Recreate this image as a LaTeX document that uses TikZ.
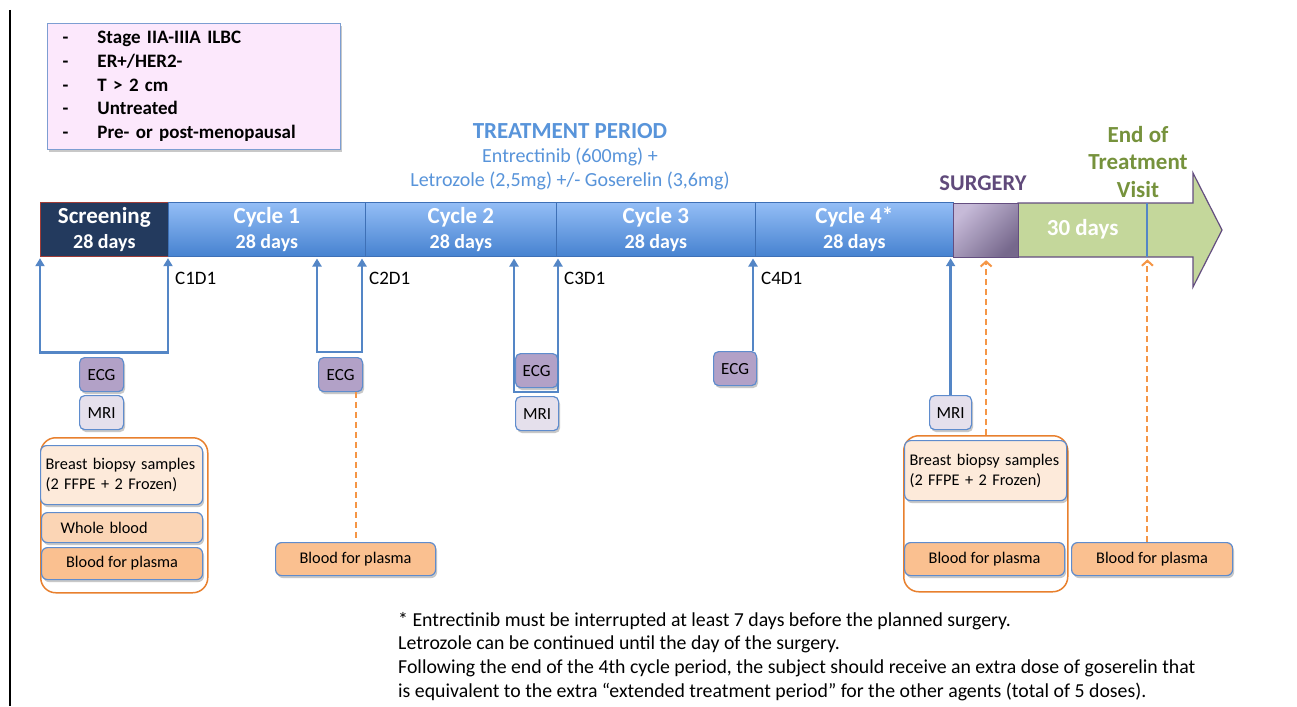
\documentclass[tikz,border=0pt]{standalone}
\usepackage{fontspec}
\setmainfont{Carlito}
\usetikzlibrary{arrows.meta,shadows,calc}
\definecolor{barTop}{RGB}{148,190,246}
\definecolor{barBot}{RGB}{70,130,208}
\definecolor{barEdge}{RGB}{62,112,182}
\definecolor{scrFill}{RGB}{35,58,94}
\definecolor{scrEdge}{RGB}{160,60,55}
\definecolor{surTop}{RGB}{198,186,216}
\definecolor{surBot}{RGB}{118,104,140}
\definecolor{purEdge}{RGB}{100,78,128}
\definecolor{grnFill}{RGB}{196,215,155}
\definecolor{arrBlue}{RGB}{84,134,198}
\definecolor{boxBlue}{RGB}{95,140,205}
\definecolor{ecgFill}{RGB}{178,161,199}
\definecolor{mriFill}{RGB}{229,224,236}
\definecolor{bioFill}{RGB}{253,234,218}
\definecolor{wbFill}{RGB}{251,213,181}
\definecolor{bpFill}{RGB}{250,192,144}
\definecolor{orLine}{RGB}{232,128,46}
\definecolor{orDashC}{RGB}{245,150,70}
\definecolor{tpBlue}{RGB}{88,148,218}
\definecolor{surText}{RGB}{96,74,123}
\definecolor{eotGreen}{RGB}{118,146,60}
\definecolor{critFill}{RGB}{252,232,252}
\definecolor{critEdge}{RGB}{125,158,210}
\newcommand\segtxt[2]{#1\\{\fontsize{20}{25}\selectfont #2}}
\newcommand\critem[1]{\makebox[35pt][l]{-}#1}
\begin{document}
\begin{tikzpicture}[x=1pt,y=-1pt,
  segbase/.style={anchor=north west, minimum height=54, inner sep=0, align=center,
    text=white, font=\bfseries\fontsize{23}{25}\selectfont, line width=0.7},
  seg/.style={segbase, draw=barEdge, top color=barTop, bottom color=barBot},
  scrbox/.style={segbase, draw=scrEdge, fill=scrFill},
  shad/.style={drop shadow={shadow xshift=1.5pt, shadow yshift=-2.5pt, opacity=0.3, fill=black!70}},
  ebox/.style={draw=boxBlue, line width=1.2, rounded corners=5, anchor=north west,
    minimum width=44, minimum height=34, inner sep=0, font=\fontsize{17}{19}\selectfont, shad},
  grp/.style={draw=orLine, line width=1.5, rounded corners=15, anchor=north west, inner sep=0},
  sbox/.style={draw=boxBlue, line width=1.2, rounded corners=6, anchor=north west, inner ysep=0,
    font=\fontsize{16.3}{20}\selectfont, shad},
  bA/.style={draw=arrBlue, line width=2.5, {Triangle[width=9pt,length=8pt]}-{Triangle[width=9pt,length=8pt]}, shorten <=1.5pt, shorten >=1.5pt},
  uA/.style={draw=arrBlue, line width=2.5, -{Triangle[width=9pt,length=8pt]}, shorten >=1.5pt},
  oD/.style={draw=orDashC, line width=2, dash pattern=on 6pt off 4pt, -{Straight Barb[length=5pt,width=11pt]}},
  oL/.style={draw=orDashC, line width=2, dash pattern=on 6pt off 4pt},
  dlabel/.style={anchor=west, inner sep=0, font=\fontsize{19}{22}\selectfont}
]
\useasboundingbox (0,0) rectangle (1297,706);
\fill[white] (0,0) rectangle (1297,706);
\draw[line width=2] (10,10) -- (10,706);

% inclusion criteria
\node[draw=critEdge, fill=critFill, line width=1, anchor=north west, minimum width=293,
  minimum height=126, text width=263, inner xsep=15, inner ysep=0, align=left,
  font=\bfseries\fontsize{19}{23.7}\selectfont, shad] (crit) at (47,23)
  {\critem{Stage IIA-IIIA ILBC}\\\critem{ER+/HER2-}\\\critem{T > 2 cm}\\\critem{Untreated}\\\critem{Pre- or post-menopausal}};

% headings
\node[text=tpBlue, font=\bfseries\fontsize{23}{26}\selectfont] (tp) at (570,131) {TREATMENT PERIOD};
\node[text=tpBlue, align=center, font=\fontsize{20}{24}\selectfont] (drugs) at (570,169)
  {Entrectinib (600mg) +\\Letrozole (2,5mg) +/- Goserelin (3,6mg)};
\node[text=surText, font=\bfseries\fontsize{22.5}{25}\selectfont] (surl) at (983,183) {SURGERY};
\node[text=eotGreen, align=center, font=\bfseries\fontsize{23}{27.5}\selectfont] (eot) at (1138,162)
  {End of\\Treatment\\Visit};

% timeline
\filldraw[fill=grnFill, draw=purEdge, line width=1.2] (1018,203) -- (1193,203) -- (1193,173) -- (1222,230)
  -- (1193,287) -- (1193,257) -- (1018,257) -- cycle;
\node[anchor=north west, minimum width=129, minimum height=52, inner sep=0, text=white,
  font=\bfseries\fontsize{23}{25}\selectfont] (fu) at (1018,203) {30 days};
\draw[arrBlue, line width=2] (1147,203) -- (1147,257);
\node[scrbox, minimum width=128] (scr) at (40,202) {\segtxt{Screening}{28 days}};
\node[seg, minimum width=197] (c1) at (168,202) {\segtxt{Cycle 1}{28 days}};
\node[seg, minimum width=191] (c2) at (365,202) {\segtxt{Cycle 2}{28 days}};
\node[seg, minimum width=199] (c3) at (556,202) {\segtxt{Cycle 3}{28 days}};
\node[seg, minimum width=198] (c4) at (755,202) {\segtxt{Cycle 4*}{28 days}};
\node[segbase, minimum width=65, top color=surTop, bottom color=surBot, shading angle=45,
  draw=purEdge, line width=1.2] (sur) at (953,203) {};

% day labels
\node[dlabel] (d1) at (175,278) {C1D1};
\node[dlabel] (d2) at (369,278) {C2D1};
\node[dlabel] (d3) at (564,278) {C3D1};
\node[dlabel] (d4) at (761,278) {C4D1};

% assessment boxes
\node[ebox, fill=ecgFill] (ecg1) at (79,357) {ECG};
\node[ebox, fill=mriFill] (mri1) at (79,395) {MRI};
\node[ebox, fill=ecgFill] (ecg2) at (318,357) {ECG};
\node[ebox, fill=ecgFill, minimum width=42] (ecg3) at (515,353) {ECG};
\node[ebox, fill=mriFill, minimum width=43] (mri3) at (515,396) {MRI};
\node[ebox, fill=ecgFill, minimum width=43] (ecg4) at (713,351) {ECG};
\node[ebox, fill=mriFill, minimum width=42] (mri4) at (929,395) {MRI};

% brackets and arrows to the timeline
\coordinate (a2) at (317,257);
\coordinate (e2) at (362,257);
\coordinate (a3) at (514,257);
\coordinate (e3) at (558,257);
\coordinate (e4) at (753,257);
\draw[bA] (scr.south west) -- ++(0,96) -| (c1.south west);
\draw[bA] (a2) -- ++(0,95) -| (e2);
\draw[bA] (a3) -- ++(0,135) -| (e3);
\draw[uA] (ecg4.north -| e4) -- (e4);
\draw[uA] (mri4.north) -- (mri4.north |- c4.south);

% sample groups
\node[grp, minimum width=167, minimum height=155] (grp1) at (40,437) {};
\node[grp, minimum width=164, minimum height=156] (grp4) at (903,435) {};
\node[sbox, fill=bioFill, minimum width=162, minimum height=59, text width=152, inner xsep=5, align=left] (bio1) at (40,445)
  {Breast biopsy samples\\(2 FFPE + 2 Frozen)};
\node[sbox, fill=wbFill, minimum width=161, minimum height=30, text width=123, inner xsep=19, align=left] (wb1) at (41,512)
  {Whole blood};
\node[sbox, fill=bpFill, minimum width=161, minimum height=32] (bp1) at (41,547) {Blood for plasma};
\node[sbox, fill=bpFill, minimum width=160, minimum height=33] (bp2) at (275,542) {Blood for plasma};
\node[sbox, fill=bioFill, minimum width=162, minimum height=60, text width=152, inner xsep=5, align=left] (bio4) at (904,440)
  {Breast biopsy samples\\(2 FFPE + 2 Frozen)};
\node[sbox, fill=bpFill, minimum width=160, minimum height=33] (bp4) at (904,542) {Blood for plasma};
\node[sbox, fill=bpFill, minimum width=161, minimum height=33] (bp5) at (1071,542) {Blood for plasma};

% orange dashed connectors
\draw[oL] (ecg2.south -| bp2.north) -- (bp2.north);
\draw[oD, shorten >=2pt] (grp4.north -| sur.south) -- (sur.south);
\draw[oD, shorten >=4pt] (bp5.north -| fu.south east) -- (fu.south east);

% footnote
\node[anchor=north west, inner sep=0, align=left, font=\fontsize{19.8}{23.7}\selectfont] (note) at (398,612)
  {* Entrectinib must be interrupted at least 7 days before the planned surgery.\\
   Letrozole can be continued until the day of the surgery.\\
   Following the end of the 4th cycle period, the subject should receive an extra dose of goserelin that\\
   is equivalent to the extra “extended treatment period” for the other agents (total of 5 doses).};
\end{tikzpicture}
\end{document}
